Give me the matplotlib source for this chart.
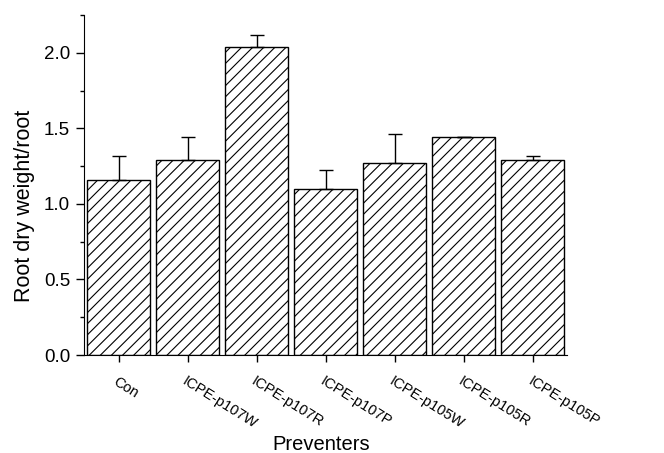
import numpy as np
import matplotlib
matplotlib.use('Agg')
import matplotlib.pyplot as plt
from matplotlib.ticker import MultipleLocator
from matplotlib.transforms import ScaledTranslation

plt.rcParams['font.family'] = ['Liberation Sans', 'DejaVu Sans']
plt.rcParams['hatch.linewidth'] = 0.8

# Dados: massa seca de raiz por tratamento
tratamentos = ['Con', 'ICPE-p107W', 'ICPE-p107R', 'ICPE-p107P',
               'ICPE-p105W', 'ICPE-p105R', 'ICPE-p105P']
media = [1.16, 1.29, 2.04, 1.10, 1.27, 1.44, 1.29]
erro = [0.16, 0.15, 0.08, 0.125, 0.19, 0.005, 0.03]

fig = plt.figure(figsize=(6.64, 4.53), dpi=100)
ax = fig.add_axes([0.1265, 0.2163, 0.7275, 0.7507])

x = np.arange(len(tratamentos))
ax.bar(x, media, width=0.9, color='white', edgecolor='black',
       linewidth=1.0, hatch='///', zorder=2)
ax.errorbar(x, media, yerr=[np.zeros(len(erro)), erro], fmt='none',
            ecolor='black', elinewidth=1.0, capsize=5, capthick=1.0, zorder=3)

ax.set_xlim(-0.5, 6.5)
ax.set_ylim(0, 2.25)
ax.yaxis.set_minor_locator(MultipleLocator(0.25))
ax.set_yticks([0.0, 0.5, 1.0, 1.5, 2.0])
ax.set_yticklabels(['0.0', '0.5', '1.0', '1.5', '2.0'], fontsize=13.5)

ax.set_xticks(x)
ax.set_xticklabels(tratamentos, rotation=-32, ha='left',
                   rotation_mode='anchor', fontsize=10.5)
# desloca os rótulos um pouco para a esquerda
desloc = ScaledTranslation(-9 / 100, 0, fig.dpi_scale_trans)
for lbl in ax.get_xticklabels():
    lbl.set_transform(lbl.get_transform() + desloc)
ax.tick_params(axis='x', pad=9, length=5, width=1)
ax.tick_params(axis='y', which='major', length=6, width=1, pad=4)
ax.tick_params(axis='y', which='minor', length=3, width=1)

ax.spines['top'].set_visible(False)
ax.spines['right'].set_visible(False)

ax.set_ylabel('Root dry weight/root', fontsize=15.5)
ax.yaxis.set_label_coords(-0.102, 0.44)
ax.set_xlabel('Preventers', fontsize=14.5)
ax.xaxis.set_label_coords(0.49, -0.235)

plt.savefig('out.png', dpi=100)
plt.close()
